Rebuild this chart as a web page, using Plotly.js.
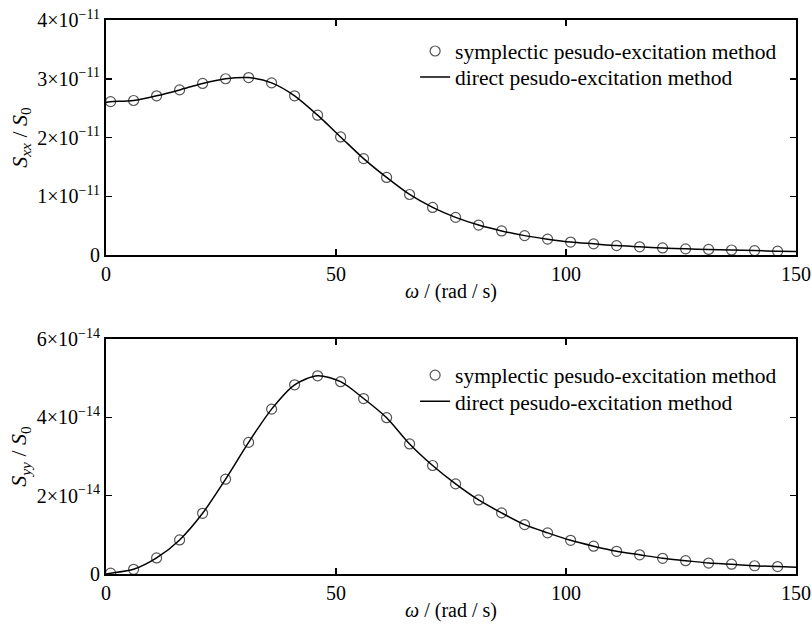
<!DOCTYPE html>
<html>
<head>
<meta charset="utf-8">
<script src="https://cdn.plot.ly/plotly-3.0.1.min.js"></script>
<style>html,body{margin:0;padding:0;background:#fff;}#chart{width:812px;height:625px;}</style>
</head>
<body>
<div id="chart"></div>
<script>
// Frequency samples (rad/s)
const omegaMarkers = [1,6,11,16,21,26,31,36,41,46,51,56,61,66,71,76,81,86,91,96,101,106,111,116,121,126,131,136,141,146];
const omegaLine = [0,1,6,11,16,21,26,31,36,41,46,51,56,61,66,71,76,81,86,91,96,101,106,111,116,121,126,131,136,141,146,150];

// Sxx/S0 - symplectic (markers) and direct (line)
const sxxSymplectic = [2.61e-11,2.63e-11,2.71e-11,2.81e-11,2.92e-11,3.00e-11,3.02e-11,2.93e-11,2.71e-11,2.38e-11,2.01e-11,1.64e-11,1.32e-11,1.03e-11,0.81e-11,0.64e-11,0.51e-11,0.41e-11,0.33e-11,0.27e-11,0.22e-11,0.19e-11,0.16e-11,0.14e-11,0.12e-11,0.105e-11,0.095e-11,0.085e-11,0.075e-11,0.065e-11];
const sxxDirect = [2.60e-11,2.61e-11,2.63e-11,2.71e-11,2.81e-11,2.92e-11,3.00e-11,3.02e-11,2.93e-11,2.71e-11,2.38e-11,2.01e-11,1.64e-11,1.32e-11,1.03e-11,0.81e-11,0.64e-11,0.51e-11,0.41e-11,0.33e-11,0.27e-11,0.22e-11,0.19e-11,0.16e-11,0.14e-11,0.12e-11,0.105e-11,0.095e-11,0.085e-11,0.075e-11,0.065e-11,0.06e-11];

// Syy/S0
const syySymplectic = [0.02e-14,0.12e-14,0.41e-14,0.87e-14,1.55e-14,2.42e-14,3.36e-14,4.21e-14,4.83e-14,5.06e-14,4.91e-14,4.48e-14,3.99e-14,3.32e-14,2.77e-14,2.30e-14,1.89e-14,1.56e-14,1.26e-14,1.05e-14,0.86e-14,0.71e-14,0.58e-14,0.49e-14,0.40e-14,0.34e-14,0.28e-14,0.25e-14,0.21e-14,0.19e-14];
const syyDirect = [0,0.02e-14,0.12e-14,0.41e-14,0.87e-14,1.55e-14,2.42e-14,3.36e-14,4.21e-14,4.83e-14,5.06e-14,4.91e-14,4.48e-14,3.99e-14,3.32e-14,2.77e-14,2.30e-14,1.89e-14,1.56e-14,1.26e-14,1.05e-14,0.86e-14,0.71e-14,0.58e-14,0.49e-14,0.40e-14,0.34e-14,0.28e-14,0.25e-14,0.21e-14,0.19e-14,0.17e-14];

// Tick labels
const xTickVals = [0,50,100,150];
const xTickText = ["0","50","100","150"];
const sxxTickVals = [0,1e-11,2e-11,3e-11,4e-11];
const sxxTickText = ["0","1×10<sup>−11</sup>","2×10<sup>−11</sup>","3×10<sup>−11</sup>","4×10<sup>−11</sup>"];
const syyTickVals = [0,2e-14,4e-14,6e-14];
const syyTickText = ["0","2×10<sup>−14</sup>","4×10<sup>−14</sup>","6×10<sup>−14</sup>"];

const seriesNames = ["symplectic pesudo-excitation method","direct pesudo-excitation method"];

const FONT = "'Liberation Serif', 'Times New Roman', serif";
const markerStyle = {symbol:"circle-open", size:10, color:"#555555", line:{width:1.2, color:"#555555"}};
const lineStyle = {color:"#000000", width:1.5, shape:"spline", smoothing:0.8};

const traces = [
  {x:omegaMarkers, y:sxxSymplectic, mode:"markers", name:seriesNames[0], marker:markerStyle, xaxis:"x", yaxis:"y", legend:"legend"},
  {x:omegaLine, y:sxxDirect, mode:"lines", name:seriesNames[1], line:lineStyle, xaxis:"x", yaxis:"y", legend:"legend2"},
  {x:omegaMarkers, y:syySymplectic, mode:"markers", name:seriesNames[0], marker:markerStyle, xaxis:"x2", yaxis:"y2", legend:"legend3"},
  {x:omegaLine, y:syyDirect, mode:"lines", name:seriesNames[1], line:lineStyle, xaxis:"x2", yaxis:"y2", legend:"legend4"}
];

function xAxis(anchor){
  return {
    anchor:anchor, range:[0,150], tickvals:xTickVals, ticktext:xTickText,
    ticks:"inside", ticklen:6, tickwidth:1.5, tickcolor:"#000",
    showline:true, linecolor:"#000", linewidth:2, mirror:"ticks",
    showgrid:false, zeroline:false,
    tickfont:{family:FONT, size:20, color:"#000"},
    title:{text:"<i>ω</i> / (rad / s)", font:{family:FONT, size:20, color:"#000"}, standoff:0}
  };
}
function yAxis(anchor, domain, range, vals, text, title){
  return {
    anchor:anchor, domain:domain, range:range, tickvals:vals, ticktext:text,
    ticks:"inside", ticklen:6, tickwidth:1.5, tickcolor:"#000",
    showline:true, linecolor:"#000", linewidth:2, mirror:"ticks",
    showgrid:false, zeroline:false,
    tickfont:{family:FONT, size:20, color:"#000"},
    title:{text:title, font:{family:FONT, size:22, color:"#000"}, standoff:4}
  };
}

const legendCommon = {x:0.448, xanchor:"left", yanchor:"middle", bgcolor:"rgba(0,0,0,0)", borderwidth:0,
  font:{family:FONT, size:21.5, color:"#000"}, tracegroupgap:0, itemwidth:30};

const layout = {
  width:812, height:625,
  margin:{l:106, r:16, t:20, b:51},
  paper_bgcolor:"#fff", plot_bgcolor:"#fff",
  font:{family:FONT, color:"#000"},
  showlegend:true,
  xaxis:Object.assign(xAxis("y"), {domain:[0,1]}),
  xaxis2:Object.assign(xAxis("y2"), {domain:[0,1]}),
  yaxis:yAxis("x", [0.5758,1], [0,4e-11], sxxTickVals, sxxTickText, "<i>S</i><sub><i>xx</i></sub> / <i>S</i><sub>0</sub>"),
  yaxis2:yAxis("x2", [0,0.4242], [0,6e-14], syyTickVals, syyTickText, "<i>S</i><sub><i>yy</i></sub> / <i>S</i><sub>0</sub>"),
  legend:Object.assign({y:0.944}, legendCommon),
  legend2:Object.assign({y:0.897}, legendCommon),
  legend3:Object.assign({y:0.359}, legendCommon),
  legend4:Object.assign({y:0.312}, legendCommon)
};

Plotly.newPlot("chart", traces, layout, {displayModeBar:false, staticPlot:true});
</script>
</body>
</html>
